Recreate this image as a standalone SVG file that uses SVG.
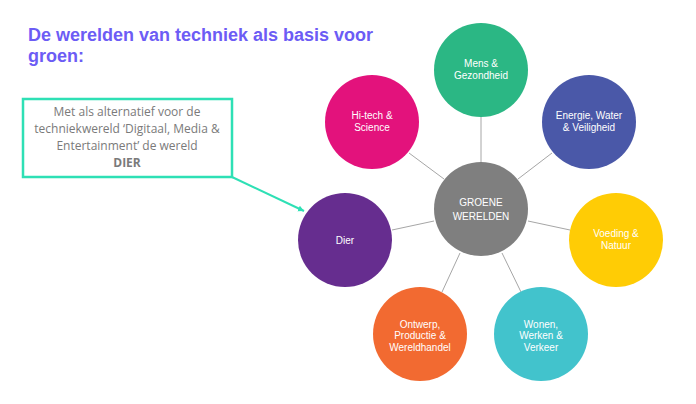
<svg xmlns="http://www.w3.org/2000/svg" width="696" height="404" viewBox="0 0 696 404">
<defs>
<style>
.title{font-family:"Liberation Sans",Arial,sans-serif;font-weight:bold;font-size:18px;fill:#6C5CF5}
.note{font-family:"Open Sans","Liberation Sans",sans-serif;font-size:12px;fill:#7a7a7a;text-anchor:middle}
.lbl{font-family:"Liberation Sans",Arial,sans-serif;font-size:10px;fill:#ffffff;text-anchor:middle}
.conn line{stroke:#a6a6a6;stroke-width:1}
</style>
<marker id="ah" markerWidth="8" markerHeight="8" refX="6" refY="3" orient="auto" markerUnits="userSpaceOnUse">
<path d="M0,0 L6,3 L0,6 Z" fill="#2EE0B5"/>
</marker>
</defs>
<rect width="696" height="404" fill="#ffffff"/>
<text class="title" x="28" y="41" textLength="345" lengthAdjust="spacingAndGlyphs">De werelden van techniek als basis voor</text>
<text class="title" x="28" y="62">groen:</text>
<g id="connectors" class="conn">
<line x1="481" y1="117" x2="481" y2="162"/>
<line x1="409" y1="153" x2="444" y2="179"/>
<line x1="552" y1="153" x2="518" y2="179"/>
<line x1="392" y1="230" x2="434" y2="221"/>
<line x1="528" y1="221" x2="570" y2="230"/>
<line x1="460" y1="253" x2="442" y2="292"/>
<line x1="502" y1="253" x2="521" y2="292"/>
<line x1="232" y1="177" x2="304" y2="211" style="stroke:#2EE0B5;stroke-width:2" marker-end="url(#ah)"/>
</g>
<g id="note">
<rect x="23" y="99" width="209" height="78" fill="#ffffff" stroke="#2EE0B5" stroke-width="2.5"/>
<text class="note" x="127" y="116">Met als alternatief voor de</text>
<text class="note" x="127" y="133">techniekwereld ‘Digitaal, Media &amp;</text>
<text class="note" x="127" y="150">Entertainment’ de wereld</text>
<text class="note" x="127" y="167" font-weight="bold">DIER</text>
</g>
<g id="mens"><circle cx="481" cy="70" r="47" fill="#2BB784"/><text class="lbl" x="481" y="67">Mens &amp;</text><text class="lbl" x="481" y="79">Gezondheid</text></g>
<g id="hitech"><circle cx="372" cy="122" r="47" fill="#E3127C"/><text class="lbl" x="372" y="119">Hi-tech &amp;</text><text class="lbl" x="372" y="131">Science</text></g>
<g id="energie"><circle cx="589" cy="122" r="47" fill="#4A58A8"/><text class="lbl" x="589" y="119">Energie, Water</text><text class="lbl" x="589" y="131">&amp; Veiligheid</text></g>
<g id="groene"><circle cx="481" cy="209" r="47" fill="#7F7F7F"/><text class="lbl" x="481" y="206" font-size="10.5">GROENE</text><text class="lbl" x="481" y="220" font-size="10.5">WERELDEN</text></g>
<g id="dier"><circle cx="345" cy="240" r="47" fill="#662D8F"/><text class="lbl" x="345" y="244">Dier</text></g>
<g id="voeding"><circle cx="616" cy="240" r="47" fill="#FFCC05"/><text class="lbl" x="616" y="237">Voeding &amp;</text><text class="lbl" x="616" y="249">Natuur</text></g>
<g id="ontwerp"><circle cx="420" cy="334" r="47" fill="#F26A31"/><text class="lbl" x="420" y="327.5">Ontwerp,</text><text class="lbl" x="420" y="339">Productie &amp;</text><text class="lbl" x="420" y="350.5">Wereldhandel</text></g>
<g id="wonen"><circle cx="541" cy="334" r="47" fill="#42C3CC"/><text class="lbl" x="541" y="327.5">Wonen,</text><text class="lbl" x="541" y="339">Werken &amp;</text><text class="lbl" x="541" y="350.5">Verkeer</text></g>
</svg>
